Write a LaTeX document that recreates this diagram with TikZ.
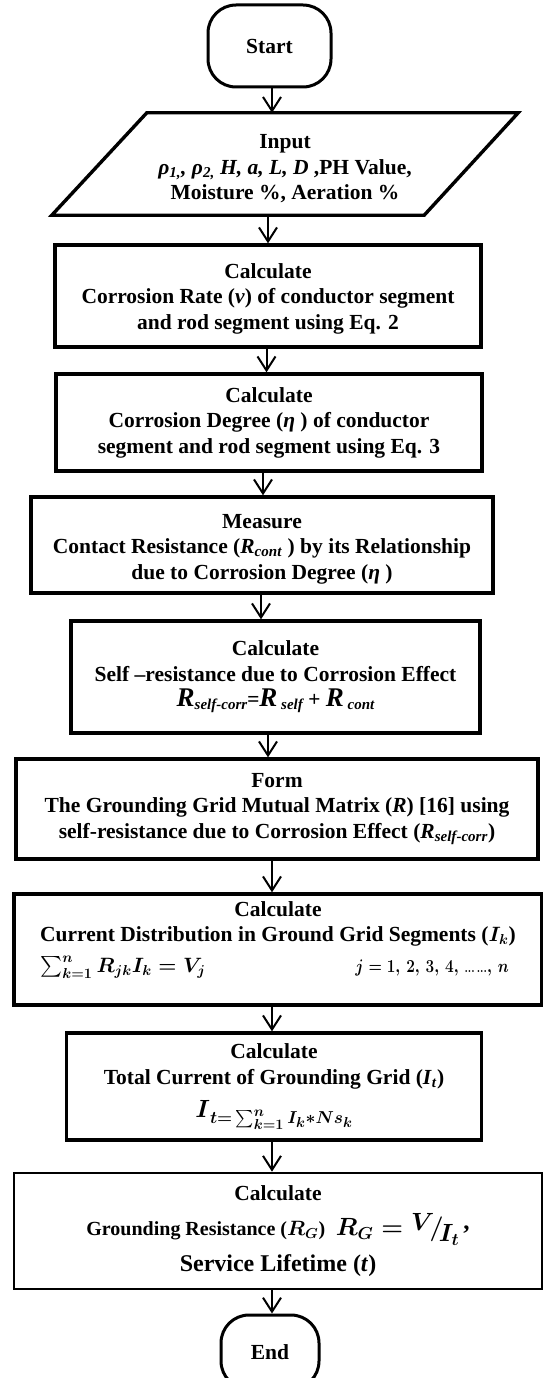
\documentclass[tikz,border=0pt]{standalone}
\usepackage{fontspec}
\setmainfont{Liberation Serif}
\usepackage{amsmath}
\usepackage{graphicx}
\usetikzlibrary{arrows.meta}
\newcommand{\bigRR}{{\fontsize{27}{27}\selectfont\textit{R}}}
\newcommand{\subtxt}[1]{\raisebox{-3pt}{\fontsize{15}{15}\selectfont\textit{#1}}}
\begin{document}
\begin{tikzpicture}[x=1pt,y=-1pt,
  every node/.style={font=\bfseries\boldmath\fontsize{21.5}{25.5}\selectfont},
  procbox/.style={draw, line width=3.4pt, inner sep=0pt, align=center},
  termbox/.style={draw, line width=3pt, rounded corners=28pt, inner sep=0pt, align=center},
  arr/.style={line width=2pt, -{Straight Barb[length=14pt,width=18pt,line width=2pt]}}
]
\useasboundingbox (0,0) rectangle (543,1378);
\clip (0,0) rectangle (543,1378);

% arrow x positions
\coordinate (xa) at (272,0);
\coordinate (xb) at (268,0);
\coordinate (xc) at (266.5,0);
\coordinate (xd) at (263,0);
\coordinate (xe) at (261,0);
\coordinate (xf) at (268,0);

\node[termbox, minimum width=123pt, minimum height=82pt] (s) at (269.5,46) {Start};

\node[inner sep=0pt, minimum width=466pt, minimum height=102pt, align=center] (in) at (285,164)
  {\rule{0pt}{24pt}Input\\
   \textit{ρ}\textsubscript{\textit{1,}}\textit{, ρ}\textsubscript{\textit{2,}} \textit{H, a, L, D} ,PH Value,\\
   Moisture \%, Aeration \%};
\draw[line width=3.4pt] ([xshift=95pt]in.north west) -- (in.north east)
  -- ([xshift=-94pt]in.south east) -- (in.south west) -- cycle;

\node[procbox, minimum width=426pt, minimum height=102pt] (b1) at (268,296)
  {\rule{0pt}{20pt}Calculate\\ Corrosion Rate (\textit{v}) of conductor segment\\ and rod segment using Eq. 2};

\node[procbox, minimum width=426pt, minimum height=97pt] (b2) at (269,422.5)
  {Calculate\\ Corrosion Degree (\textit{η} ) of conductor\\ segment and rod segment using Eq. 3};

\node[procbox, minimum width=462pt, minimum height=96pt] (b3) at (262,545)
  {\rule{0pt}{22pt}Measure\\ Contact Resistance (\textit{R}\textsubscript{\textit{cont}} ) by its Relationship\\ due to Corrosion Degree (\textit{η} )};

\node[procbox, minimum width=409pt, minimum height=112pt] (b4) at (275.5,677)
  {Calculate\\ Self –resistance due to Corrosion Effect\\
   \textit{\bigRR\subtxt{self-corr}=\bigRR\subtxt{ self} + \bigRR\subtxt{ cont}}};

\node[procbox, minimum width=522pt, minimum height=100pt] (b5) at (277,809)
  {Form\\ The Grounding Grid Mutual Matrix (\textit{R}) [16] using\\
   self-resistance due to Corrosion Effect (\textit{R}\textsubscript{\textit{self-corr}})};

\node[procbox, minimum width=528pt, minimum height=111pt] (b6) at (278,949.5)
  {Calculate\\
   Current Distribution in Ground Grid Segments ($I_k$)\\[5pt]
   \makebox[475pt][l]{$\sum_{k=1}^{n} R_{jk} I_k = V_j$\hspace{150pt}\scalebox{0.74}[0.88]{$j = 1,\,2,\,3,\,4,\,{\scriptstyle\dots\,\dots},\,n$}}\\
   \mbox{}};

\node[procbox, minimum width=415pt, minimum height=107pt] (b7) at (274,1086.5)
  {Calculate\\ Total Current of Grounding Grid (\textit{I}\textsubscript{\textit{t}})\\[8pt]
   {\fontsize{30}{30}\selectfont$I$}\raisebox{-6pt}{\fontsize{19}{19}\selectfont$t{=}\sum_{k=1}^{n} I_k{*}Ns_k$}};

\node[procbox, line width=2.6pt, minimum width=528pt, minimum height=116pt] (b8) at (278,1231)
  {Calculate\\[10pt]
   {\fontsize{20}{20}\selectfont Grounding Resistance ($R_G$)}\ \ {\fontsize{25}{25}\selectfont$R_G = \raisebox{5pt}{$V$}\!/\!\raisebox{-6pt}{$I_t$}$\raisebox{6pt}{\,,}}\\[8pt]
   {\fontsize{24}{26}\selectfont Service Lifetime (\textit{t})}};

\node[termbox, minimum width=98pt, minimum height=74pt] (e) at (270,1352) {End};

\draw[arr] (s.south -| xa) -- (in.north -| xa);
\draw[arr] (in.south -| xb) -- (b1.north -| xb);
\draw[arr] (b1.south -| xc) -- (b2.north -| xc);
\draw[arr] (b2.south -| xd) -- (b3.north -| xd);
\draw[arr] (b3.south -| xe) -- (b4.north -| xe);
\draw[arr] (b4.south -| xf) -- (b5.north -| xf);
\draw[arr] (b5.south -| xa) -- (b6.north -| xa);
\draw[arr] (b6.south -| xa) -- (b7.north -| xa);
\draw[arr] (b7.south -| xa) -- (b8.north -| xa);
\draw[arr] (b8.south -| xa) -- (e.north -| xa);
\end{tikzpicture}
\end{document}
